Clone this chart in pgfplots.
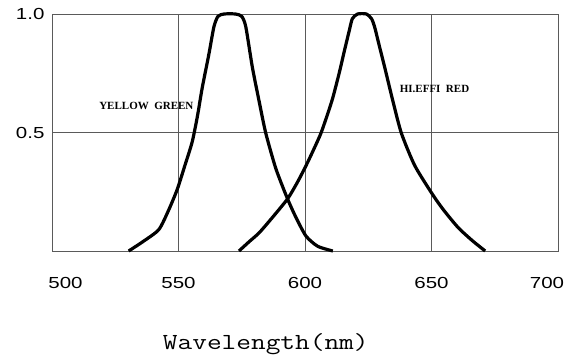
\documentclass[border=0pt]{standalone}
\usepackage{fontspec}
\usepackage{graphicx}
\usepackage{pgfplots}
\pgfplotsset{compat=1.18}
\newfontfamily\tickfont[FakeStretch=1.28]{Liberation Sans}
\newfontfamily\lblfont{Liberation Serif}
\definecolor{gridgray}{RGB}{90,90,90}

\begin{document}
\begin{tikzpicture}
\path[use as bounding box] (0,0) rectangle (567pt,354pt);
\begin{axis}[
  at={(52pt,103pt)}, anchor=south west,
  scale only axis, width=506pt, height=237pt,
  xmin=500, xmax=700, ymin=0, ymax=1,
  xtick={500,550,600,650,700},
  xticklabels={\hspace*{27pt}500,550,600,650,700\hspace*{22pt}},
  ytick={0.5,1.0}, yticklabels={0.5,1.0},
  major tick length=0pt,
  grid=major,
  major grid style={gridgray, line width=0.9pt},
  axis line style={gridgray, line width=0.9pt},
  /pgf/number format/assume math mode=true,
  ticklabel style={font=\fontsize{16}{18}\tickfont},
  xticklabel style={anchor=north, yshift=-23pt},
  yticklabel style={anchor=east, xshift=-4pt},
  xlabel={\scalebox{1.24}[1]{\fontsize{23}{26}\ttfamily Wavelength(nm)}},
  xlabel style={at={(rel axis cs:0.4225,0)}, anchor=base, yshift=-98pt},
  clip=false,
]
\addplot[black, line width=3.2pt, smooth, tension=0.4, line join=round, line cap=butt] coordinates {
(530.3,0) (536,0.04) (542.2,0.09) (546,0.17) (549.5,0.26) (552.5,0.36) (555.4,0.46) (557.5,0.57) (559.4,0.69) (562,0.83) (564,0.946) (565.6,0.99) (568,1.0) (572.5,1.0) (575,0.99) (576.6,0.946) (579.2,0.775) (581.9,0.63) (584.5,0.497) (588.5,0.347) (593.1,0.22) (596.5,0.14) (600.4,0.063) (605,0.02) (611,0)
};
\addplot[black, line width=3.2pt, smooth, tension=0.4, line join=round, line cap=butt] coordinates {
(573.9,0) (578,0.04) (581.9,0.077) (587,0.14) (593.1,0.22) (597,0.29) (600.4,0.36) (603.5,0.43) (606.3,0.497) (609,0.58) (611,0.647) (613.5,0.75) (615.6,0.846) (617.5,0.93) (618.7,0.98) (620.8,1.0) (624.3,1.0) (626.3,0.98) (627.5,0.946) (629.5,0.86) (631.5,0.775) (634.8,0.63) (638.1,0.497) (643.4,0.36) (650.7,0.234) (655,0.17) (660.6,0.098) (666,0.045) (671.2,0)
};
\node[font=\fontsize{11}{13}\lblfont\bfseries] at (axis cs:537.3,0.614) {YELLOW\ \ GREEN};
\node[font=\fontsize{11}{13}\lblfont\bfseries] at (axis cs:651.2,0.682) {HI.EFFI\ \ RED};
\end{axis}
\end{tikzpicture}
\end{document}
